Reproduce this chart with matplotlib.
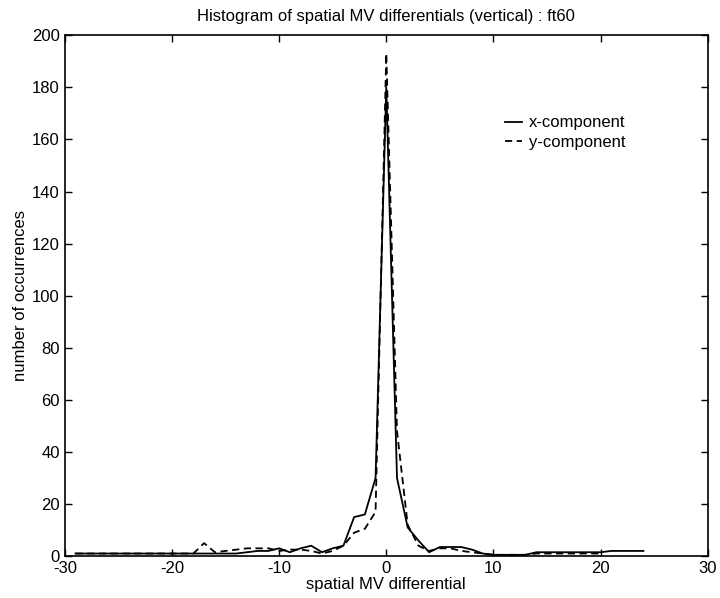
import matplotlib
matplotlib.use('Agg')
import matplotlib.pyplot as plt

plt.rcParams['font.family'] = ['Liberation Sans', 'DejaVu Sans']
plt.rcParams['axes.unicode_minus'] = False

# histogram bins (integer MV differentials)
x_bins = list(range(-29, 25))
y_bins = list(range(-29, 21))

# x-component counts, -29 .. 24
x_counts = [1, 1, 1, 1, 1, 1, 1, 1, 1, 1, 1, 1, 1, 1, 1,
            1, 1.5, 2, 2, 3, 1.5, 3, 4, 1.5, 3, 4,
            15, 16, 30, 180, 30, 11, 6, 1.5, 3.5, 3.5, 3.5, 2.5, 1,
            0.5, 0.5, 0.5, 0.5, 1.5, 1.5, 1.5, 1.5, 1.5, 1.5, 1.5, 2, 2, 2, 2]

# y-component counts, -29 .. 20
y_counts = [1, 1, 1, 1, 1, 1, 1, 1, 1, 1, 1, 1,
            5, 1.5, 2, 2.5, 3, 3, 3, 2, 2.5, 2.5, 2, 1, 2, 4,
            9, 10.5, 17, 193, 48, 12, 4, 2, 3, 3, 2, 1.5, 1,
            0.5, 0.5, 0.5, 0.5, 1, 1, 1, 1, 1, 1, 1]

fig = plt.figure(figsize=(7.2, 5.98), dpi=100)
ax = fig.add_axes([0.090, 0.070, 0.893, 0.871])

ax.plot(x_bins, x_counts, color='black', lw=1.3, ls='-', label='x-component')
ax.plot(y_bins, y_counts, color='black', lw=1.3, ls=(0, (4, 2.5)), label='y-component')

ax.set_xlim(-30, 30)
ax.set_ylim(0, 200)
ax.set_xticks(range(-30, 31, 10))
ax.set_yticks(range(0, 201, 20))
ax.tick_params(direction='in', top=True, right=True, labelsize=12, length=5, width=1)
for s in ax.spines.values():
    s.set_linewidth(1.2)

ax.set_title('Histogram of spatial MV differentials (vertical) : ft60', fontsize=12, pad=10)
ax.set_xlabel('spatial MV differential', fontsize=12, labelpad=1)
ax.set_ylabel('number of occurrences', fontsize=12, labelpad=3)

ax.legend(loc='upper left', bbox_to_anchor=(0.672, 0.862), frameon=False, borderpad=0,
          fontsize=12, handlelength=1.0, handletextpad=0.4, labelspacing=0.25)

fig.savefig('out.png', dpi=100)
